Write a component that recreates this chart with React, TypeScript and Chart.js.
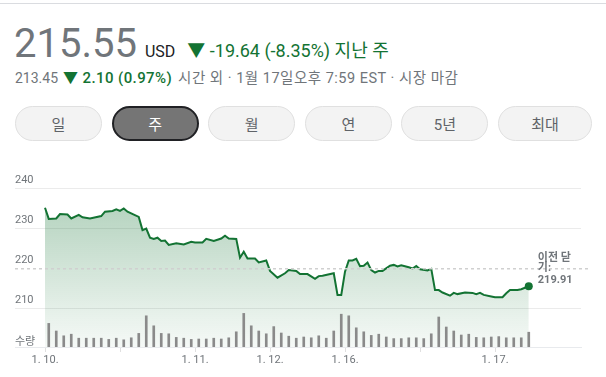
import React, { useEffect, useRef } from "react";
import { Chart, registerables } from "chart.js";

Chart.register(...registerables);

// time slots (each slot = half a volume bar interval)
const slots = [0,1,3,4,6,7,9,10,12,15,16,18,19,20,21,22,25,26,27,28,29,30,31,32,33,35,37,39,40,42,43,45,47,48,49,51,52,53,54,56,57,59,60,62,64,65,67,68,70,72,73,74,77,78,79,80,81,82,83,84,85,86,87,88,89,90,92,93,94,95,97,98,99,100,102,103,104,105,106,108,109,110,112,114,115,116,117,119,120,122,123,124,126,127,129];
const prices = [235.2,232.4,232.5,233.6,233.5,232.5,233.4,232.8,232.5,233.1,234.2,234.4,234.8,234.4,235.0,234.2,232.9,229.6,230.0,227.7,227.4,227.7,226.9,227.0,225.9,226.3,226.0,226.7,226.5,226.5,227.4,226.9,227.5,228.2,227.5,227.4,222.7,224.2,222.5,222.5,221.5,222.0,219.4,217.7,218.8,219.6,219.4,218.6,218.6,217.4,218.1,218.2,218.8,213.4,213.4,219.2,222.0,222.0,222.4,220.6,220.7,221.5,219.6,219.0,219.4,219.4,220.7,220.9,220.5,220.8,220.3,220.0,220.6,219.8,219.5,219.9,214.6,214.6,214.0,213.2,213.9,213.6,214.0,213.9,213.6,213.9,213.4,213.0,212.8,212.8,213.8,214.6,214.6,214.8,215.55];

// volume (millions), one per bar interval
const volumes = [5.9,4.0,2.8,3.2,2.2,2.2,2.2,2.2,1.9,2.2,1.8,2.3,3.4,7.8,5.3,3.4,3.3,2.4,2.2,1.9,2.0,2.0,2.2,2.0,2.3,3.8,8.4,5.3,4.0,3.3,5.1,3.5,2.7,2.2,2.5,2.3,2.8,2.2,4.0,8.2,7.8,4.8,3.8,2.9,3.2,2.5,2.1,2.1,2.3,2.3,2.1,3.3,7.5,5.0,4.0,3.0,3.2,2.4,2.3,2.5,2.6,2.3,2.3,2.3,3.7];

const priceTicks = [210, 220, 230, 240];
const dateTickSlots = [0, 20, 40, 60, 80, 100, 120];
const dateTickLabels = ["1. 10.", "", "1. 11.", "1. 12.", "1. 16.", "", "1. 17."];
const previousClose = 219.91;

const FONT = "Roboto, 'Noto Sans CJK KR', Arial, sans-serif";
const GREEN = "#137333";
const GRAY = "#70757a";

const overlayPlugin = {
  id: "overlay",
  afterDatasetsDraw(chart: any) {
    const { ctx, scales, chartArea } = chart;
    const y = scales.y.getPixelForValue(previousClose);
    ctx.save();
    ctx.strokeStyle = "#d0d0d0";
    ctx.lineWidth = 1.5;
    ctx.setLineDash([3, 3]);
    ctx.beginPath();
    ctx.moveTo(chartArea.left, y);
    ctx.lineTo(chartArea.right + 8, y);
    ctx.stroke();
    ctx.setLineDash([]);
    ctx.fillStyle = GRAY;
    ctx.font = "bold 11px " + FONT;
    ctx.textBaseline = "middle";
    ctx.textAlign = "left";
    const lx = scales.x.getPixelForValue(slots[slots.length - 1]) + 9;
    ctx.fillText("이전 닫", lx, y - 10.5);
    ctx.fillText("기:", lx, y - 0.5);
    ctx.fillText(previousClose.toFixed(2), lx, y + 11);
    ctx.font = "11px " + FONT;
    ctx.fillText("수량", chartArea.left, chartArea.bottom - 5);
    ctx.restore();
  },
};

function PriceChart() {
  const ref = useRef<HTMLCanvasElement>(null);
  useEffect(() => {
    const canvas = ref.current!;
    const lineData = slots.map((s, i) => ({ x: s, y: prices[i] }));
    const volData = volumes.map((v, i) => ({ x: i * 2 + 1, y: v }));
    const chart = new Chart(canvas, {
      type: "line",
      data: {
        datasets: [
          {
            type: "line",
            data: lineData,
            yAxisID: "y",
            borderColor: GREEN,
            borderWidth: 2,
            tension: 0,
            fill: "start",
            backgroundColor: (c: any) => {
              const ca = c.chart.chartArea;
              if (!ca) return "rgba(19,115,51,0.2)";
              const g = c.chart.ctx.createLinearGradient(0, ca.top + 30, 0, ca.bottom);
              g.addColorStop(0, "rgba(19,115,51,0.32)");
              g.addColorStop(1, "rgba(19,115,51,0.04)");
              return g;
            },
            pointRadius: (c: any) => (c.dataIndex === slots.length - 1 ? 4 : 0),
            pointBackgroundColor: GREEN,
            pointBorderWidth: 0,
            order: 1,
          } as any,
          {
            type: "bar",
            data: volData,
            yAxisID: "yv",
            backgroundColor: "#8a8a8a",
            barThickness: 2,
            order: 0,
          } as any,
        ],
      },
      options: {
        animation: false,
        responsive: false,
        maintainAspectRatio: false,
        layout: { padding: { left: 15, right: 25, top: 20, bottom: 0 } },
        plugins: { legend: { display: false }, tooltip: { enabled: false } },
        scales: {
          x: {
            type: "linear",
            offset: false,
            min: -8,
            max: 142.93,
            afterBuildTicks: (s: any) => {
              s.ticks = dateTickSlots.map((v) => ({ value: v }));
            },
            afterFit: (s: any) => {
              s.height = 30;
            },
            grid: {
              offset: false,
              drawOnChartArea: false,
              drawTicks: true,
              tickLength: 5,
              color: "#e0e0e0",
            },
            border: { display: true, color: "#e8eaed" },
            ticks: {
              autoSkip: false,
              maxRotation: 0,
              padding: 2,
              color: GRAY,
              font: { family: FONT, size: 11 },
              callback: (v: any) => {
                const i = dateTickSlots.indexOf(v);
                return i >= 0 ? dateTickLabels[i] : "";
              },
            },
          },
          y: {
            position: "left",
            min: 200.375,
            max: 244.625,
            afterBuildTicks: (s: any) => {
              s.ticks = priceTicks.map((v) => ({ value: v }));
            },
            afterFit: (s: any) => {
              s.width = 0;
            },
            grid: {
              drawTicks: false,
              color: (c: any) => (c.tick && c.tick.value === 220 ? "rgba(0,0,0,0)" : "#ebebeb"),
            },
            border: { display: false },
            ticks: {
              mirror: true,
              padding: 0,
              labelOffset: -8,
              color: GRAY,
              font: { family: FONT, size: 11 },
            },
          },
          yv: {
            display: false,
            min: 0,
            max: 44.25,
          },
        },
      },
      plugins: [overlayPlugin],
    } as any);
    return () => chart.destroy();
  }, []);
  return <canvas ref={ref} width={606} height={227} style={{ position: "absolute", left: 0, top: 150, width: 606, height: 227 }} />;
}

const buttons = ["일", "주", "월", "연", "5년", "최대"];

export default function App() {
  return (
    <div style={{ position: "absolute", left: 0, top: 0, width: 606, height: 377, background: "#fff", fontFamily: FONT, overflow: "hidden" }}>
      <div style={{ position: "absolute", left: 0, top: 3, width: 606, height: 1, background: "#dadce0" }} />
      <div style={{ position: "absolute", left: 14, top: 22, display: "flex", alignItems: "baseline", whiteSpace: "nowrap" }}>
        <span style={{ fontSize: 40, color: GRAY, lineHeight: "44px" }}>215.55</span>
        <span style={{ fontSize: 16, color: "#202124", marginLeft: 8 }}>USD</span>
        <span style={{ fontSize: 18, color: GREEN, marginLeft: 12 }}>▼ -19.64 (-8.35%) 지난 주</span>
      </div>
      <div style={{ position: "absolute", left: 15, top: 66, fontSize: 14, color: GRAY, whiteSpace: "nowrap" }}>
        <span>213.45</span>
        <span style={{ color: GREEN, fontWeight: 500, fontSize: 15, letterSpacing: 0.4, marginLeft: 5 }}>▼ 2.10 (0.97%)</span>
        <span style={{ fontSize: 14.5, letterSpacing: 0.5, marginLeft: 6 }}>시간 외 · 1월 17일오후 7:59 EST · 시장 마감</span>
      </div>
      <div style={{ position: "absolute", left: 15, top: 106, display: "flex", gap: 9.6 }}>
        {buttons.map((b, i) => {
          const sel = i === 1;
          return (
            <div
              key={b}
              style={{
                boxSizing: "border-box",
                width: i === 5 ? 94 : 87,
                height: 35,
                borderRadius: 18,
                background: sel ? "#757575" : "#f3f3f3",
                border: sel ? "2px solid #202124" : "1px solid #e0e0e0",
                color: sel ? "#fff" : "#5f6368",
                fontSize: 15,
                display: "flex",
                alignItems: "center",
                justifyContent: "center",
              }}
            >
              {b}
            </div>
          );
        })}
      </div>
      <PriceChart />
    </div>
  );
}
